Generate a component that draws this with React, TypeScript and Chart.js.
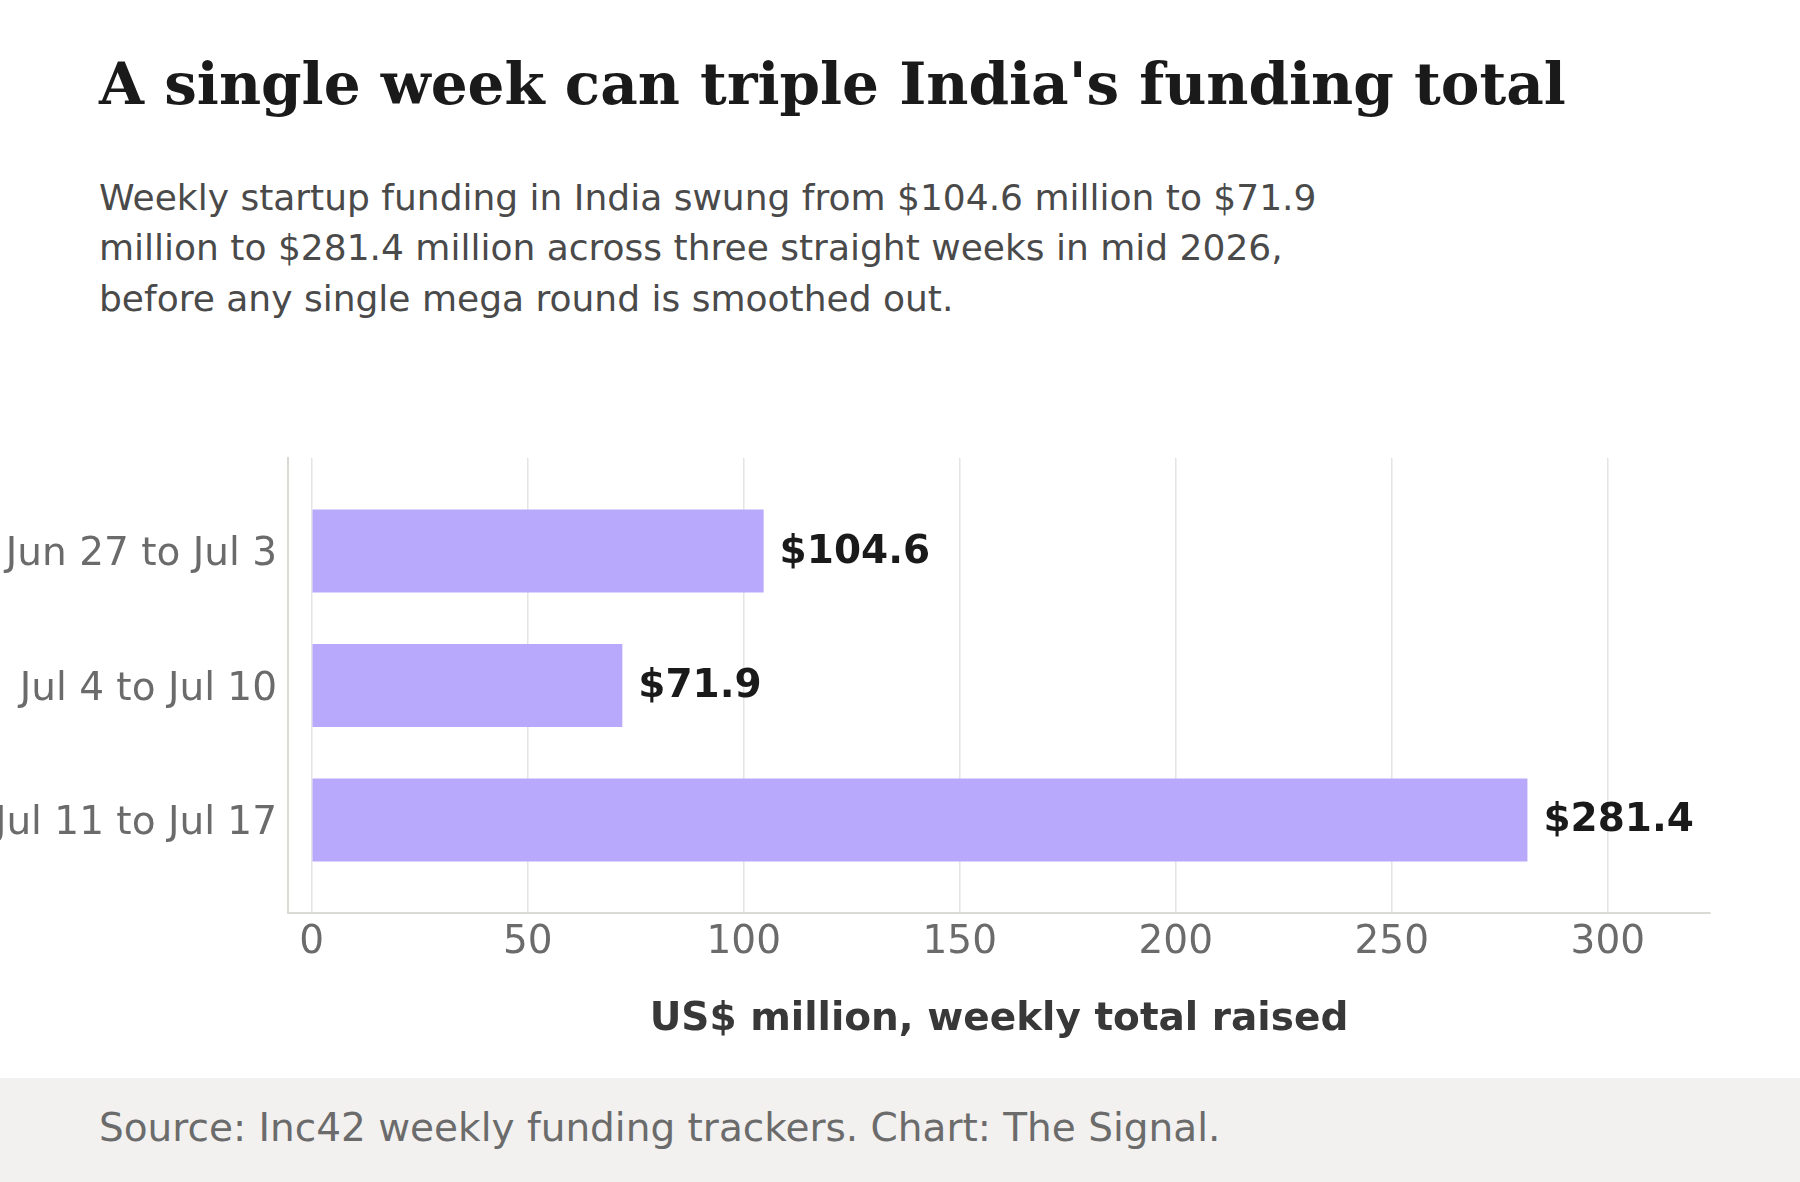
import React, { useEffect, useRef } from "react";
import { Chart, registerables } from "chart.js";

Chart.register(...registerables);

// Weekly totals (US$ million) for three consecutive weeks
const CATEGORIES = ["Jun 27 to Jul 3", "Jul 4 to Jul 10", "Jul 11 to Jul 17"];
const FUNDING = [104.6, 71.9, 281.4];
const X_TICKS = [0, 50, 100, 150, 200, 250, 300];

const TITLE = "A single week can triple India's funding total";
const SUBTITLE_LINES = [
  "Weekly startup funding in India swung from $104.6 million to $71.9",
  "million to $281.4 million across three straight weeks in mid 2026,",
  "before any single mega round is smoothed out.",
];
const X_TITLE = "US$ million, weekly total raised";
const SOURCE = "Source: Inc42 weekly funding trackers. Chart: The Signal.";

const SANS = "'DejaVu Sans', Verdana, sans-serif";
const SERIF = "'DejaVu Serif', Georgia, serif";
const BAR_COLOR = "#b8a9fd";
const AXIS_COLOR = "#dad9d4";
const GRID_COLOR = "#e4e4e4";

// Bold dollar labels placed just past the end of each bar
const valueLabels = {
  id: "valueLabels",
  afterDatasetsDraw(chart: any) {
    const { ctx } = chart;
    const meta = chart.getDatasetMeta(0);
    ctx.save();
    ctx.font = `bold 39px ${SANS}`;
    ctx.fillStyle = "#1a1a1a";
    ctx.textAlign = "left";
    ctx.textBaseline = "alphabetic";
    meta.data.forEach((bar: any, i: number) => {
      ctx.fillText(`$${FUNDING[i].toFixed(1)}`, bar.x + 16, bar.y + 11.5);
    });
    ctx.restore();
  },
};

function FundingChart() {
  const canvasRef = useRef<HTMLCanvasElement | null>(null);

  useEffect(() => {
    const canvas = canvasRef.current;
    if (!canvas) return;
    const chart = new Chart(canvas, {
      type: "bar",
      data: {
        datasets: [
          {
            data: FUNDING.map((v, i) => ({ x: v, y: i })),
            backgroundColor: BAR_COLOR,
            borderWidth: 0,
            categoryPercentage: 1,
            barPercentage: 0.617,
          },
        ],
      },
      options: {
        indexAxis: "y",
        responsive: false,
        maintainAspectRatio: false,
        devicePixelRatio: 1,
        animation: false,
        layout: { padding: { top: 58, right: 90, left: 0, bottom: 0 } },
        plugins: {
          legend: { display: false },
          tooltip: { enabled: false },
          title: { display: false },
        },
        scales: {
          x: {
            type: "linear",
            position: "bottom",
            min: -5.49,
            max: 323.66,
            offset: false,
            afterBuildTicks: (scale: any) => {
              scale.ticks = X_TICKS.map((v) => ({ value: v }));
            },
            afterFit: (scale: any) => {
              scale.height = 165;
            },
            grid: {
              color: GRID_COLOR,
              lineWidth: 1.5,
              drawTicks: false,
              offset: false,
            },
            border: { display: true, color: AXIS_COLOR, width: 2 },
            ticks: {
              color: "#6b6b6b",
              font: { family: SANS, size: 39 },
              padding: 6,
              maxRotation: 0,
            },
            title: {
              display: true,
              text: X_TITLE,
              color: "#383838",
              font: { family: SANS, size: 39, weight: "bold" },
              padding: { top: 0, bottom: 35 },
            },
          },
          y: {
            type: "linear",
            reverse: true,
            offset: false,
            min: -0.6915,
            max: 2.6915,
            afterBuildTicks: (scale: any) => {
              scale.ticks = CATEGORIES.map((_, i) => ({ value: i }));
            },
            afterFit: (scale: any) => {
              scale.width = 288;
            },
            grid: { display: false, drawTicks: false, offset: false },
            border: { display: true, color: AXIS_COLOR, width: 2 },
            ticks: {
              color: "#6b6b6b",
              font: { family: SANS, size: 39 },
              padding: 11,
              labelOffset: 4,
              callback: (v: any) => CATEGORIES[v as number] ?? "",
            },
          },
        },
      },
      plugins: [valueLabels],
    } as any);
    return () => chart.destroy();
  }, []);

  return (
    <canvas
      ref={canvasRef}
      width={1800}
      height={678}
      style={{ position: "absolute", left: 0, top: 400, width: 1800, height: 678, display: "block" }}
    />
  );
}

export default function App() {
  return (
    <div
      style={{
        position: "absolute",
        left: 0,
        top: 0,
        width: 1800,
        height: 1182,
        background: "#ffffff",
        overflow: "hidden",
      }}
    >
      <div
        style={{
          position: "absolute",
          left: 99,
          top: 54.9,
          fontFamily: SERIF,
          fontWeight: "bold",
          fontSize: 58,
          lineHeight: "58px",
          color: "#1a1a1a",
          whiteSpace: "nowrap",
        }}
      >
        {TITLE}
      </div>
      <div
        style={{
          position: "absolute",
          left: 99,
          top: 172.5,
          fontFamily: SANS,
          fontSize: 36,
          lineHeight: "50.5px",
          color: "#4a4a4a",
          whiteSpace: "nowrap",
        }}
      >
        {SUBTITLE_LINES.map((line, i) => (
          <div key={i}>{line}</div>
        ))}
      </div>
      <FundingChart />
      <div
        style={{
          position: "absolute",
          left: 0,
          top: 1078,
          width: 1800,
          height: 104,
          background: "#f2f1ef",
        }}
      />
      <div
        style={{
          position: "absolute",
          left: 99,
          top: 1105,
          fontFamily: SANS,
          fontSize: 39,
          lineHeight: "46.8px",
          color: "#6b6b6b",
          whiteSpace: "nowrap",
        }}
      >
        {SOURCE}
      </div>
    </div>
  );
}
